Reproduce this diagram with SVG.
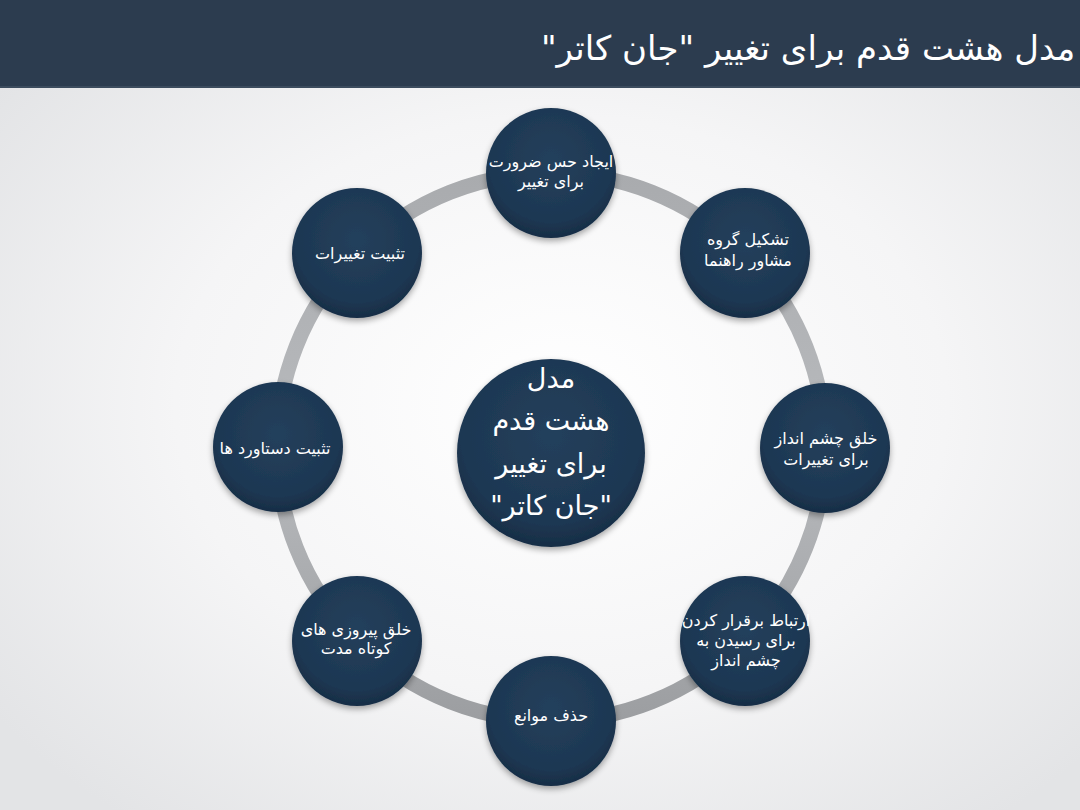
<svg xmlns="http://www.w3.org/2000/svg" width="1080" height="810" viewBox="0 0 1080 810">
<defs>
<radialGradient id="bg" cx="0.52" cy="0.5" r="0.65">
<stop offset="0" stop-color="#ffffff"/>
<stop offset="0.55" stop-color="#f5f5f6"/>
<stop offset="1" stop-color="#e3e4e6"/>
</radialGradient>
<linearGradient id="ring" x1="0" y1="0" x2="0" y2="1">
<stop offset="0" stop-color="#a9abae"/>
<stop offset="0.5" stop-color="#b8babd"/>
<stop offset="1" stop-color="#9c9ea1"/>
</linearGradient>
<radialGradient id="node" cx="0.5" cy="0.4" r="0.6">
<stop offset="0" stop-color="#24405c"/>
<stop offset="0.8" stop-color="#1d3752"/>
<stop offset="1" stop-color="#172d45"/>
</radialGradient>
<filter id="sh" x="-20%" y="-20%" width="140%" height="140%">
<feGaussianBlur in="SourceAlpha" stdDeviation="3"/>
<feOffset dx="0" dy="3" result="b"/>
<feComponentTransfer><feFuncA type="linear" slope="0.35"/></feComponentTransfer>
<feMerge><feMergeNode/><feMergeNode in="SourceGraphic"/></feMerge>
</filter>
</defs>
<style>
.n{fill:url(#node);filter:url(#sh);}
.t{fill:#ffffff;font-family:"DejaVu Sans","Noto Sans",sans-serif;font-size:16px;text-anchor:middle;direction:rtl;}
.c{font-size:27px;}
.h{fill:#ffffff;font-family:"DejaVu Sans","Noto Sans",sans-serif;font-size:34px;text-anchor:middle;direction:rtl;}
</style>
<rect width="1080" height="810" fill="url(#bg)"/>
<rect x="0" y="0" width="1080" height="87" fill="#2c3c4f"/>
<rect x="0" y="86" width="1080" height="2" fill="#3c4c5e"/>
<text class="h" x="808" y="60">مدل هشت قدم برای تغییر "جان کاتر"</text>
<g id="connectors">
<circle cx="551" cy="447" r="274" fill="none" stroke="url(#ring)" stroke-width="15"/>
</g>
<g id="center">
<circle class="n" cx="551" cy="453" r="94"/>
<text class="t c" x="551" y="388">مدل</text>
<text class="t c" x="551" y="430">هشت قدم</text>
<text class="t c" x="551" y="473">برای تغییر</text>
<text class="t c" x="551" y="515">"جان کاتر"</text>
</g>
<g id="n1">
<circle class="n" cx="551" cy="173" r="65"/>
<text class="t" x="551" y="167">ایجاد حس ضرورت</text>
<text class="t" x="551" y="187">برای تغییر</text>
</g>
<g id="n2">
<circle class="n" cx="745" cy="253" r="65"/>
<text class="t" x="748" y="245">تشکیل گروه</text>
<text class="t" x="748" y="266">مشاور راهنما</text>
</g>
<g id="n3">
<circle class="n" cx="825" cy="448" r="65"/>
<text class="t" x="826" y="444">خلق چشم انداز</text>
<text class="t" x="826" y="465">برای تغییرات</text>
</g>
<g id="n4">
<circle class="n" cx="745" cy="641" r="65"/>
<text class="t" x="746" y="626">ارتباط برقرار کردن</text>
<text class="t" x="746" y="646">برای رسیدن به</text>
<text class="t" x="746" y="666">چشم انداز</text>
</g>
<g id="n5">
<circle class="n" cx="551" cy="721" r="65"/>
<text class="t" x="551" y="721">حذف موانع</text>
</g>
<g id="n6">
<circle class="n" cx="357" cy="641" r="65"/>
<text class="t" x="356" y="635">خلق پیروزی های</text>
<text class="t" x="356" y="654">کوتاه مدت</text>
</g>
<g id="n7">
<circle class="n" cx="278" cy="447" r="65"/>
<text class="t" x="275" y="454">تثبیت دستاورد ها</text>
</g>
<g id="n8">
<circle class="n" cx="357" cy="253" r="65"/>
<text class="t" x="360" y="259">تثبیت تغییرات</text>
</g>
</svg>
